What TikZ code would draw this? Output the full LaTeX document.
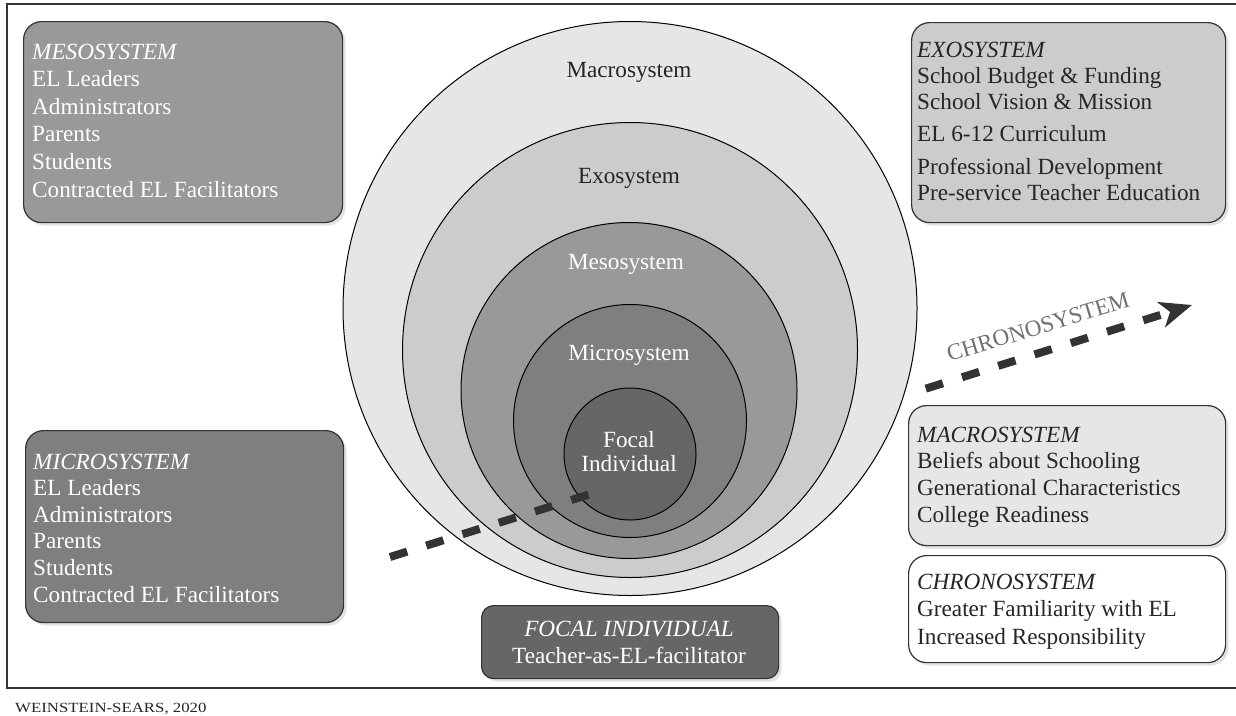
\documentclass[tikz,border=0pt]{standalone}
\usepackage{fontspec}
\setmainfont{Liberation Serif}
\usetikzlibrary{shadows,arrows.meta,calc}
\definecolor{cmacro}{HTML}{E6E6E6}
\definecolor{cexo}{HTML}{CCCCCC}
\definecolor{cmeso}{HTML}{999999}
\definecolor{cmicro}{HTML}{7F7F7F}
\definecolor{cfocal}{HTML}{666666}
\definecolor{ink}{HTML}{262626}
\definecolor{frameink}{HTML}{333333}
\definecolor{chronogray}{HTML}{707070}
\begin{document}
\begin{tikzpicture}[x=1pt,y=-1pt,
  ring/.style={circle, draw=black, line width=1pt, inner sep=0pt},
  sysbox/.style={rectangle, rounded corners=18pt, draw=frameink, line width=1.2pt,
    inner sep=0pt, anchor=north west,
    drop shadow={shadow xshift=3pt, shadow yshift=-3pt, fill=black!22}},
  boxtext/.style={anchor=base west, inner sep=0pt, font=\fontsize{23.2}{#1}\selectfont},
  boxtext/.default=27.5,
  ringlabel/.style={anchor=base, inner sep=0pt, font=\fontsize{23.2}{24}\selectfont},
  chrono/.style={draw=frameink, line width=8pt, dash pattern=on 18pt off 20pt},
]
\useasboundingbox (0,0) rectangle (1236,715);
\fill[white] (0,0) rectangle (1236,715);
\draw[frameink, line width=1.5pt] (7,4) rectangle (1250,688);

% nested circles
\node[ring, fill=cmacro, minimum size=574pt] (macro) at (630,308.5) {};
\node[ring, fill=cexo,   minimum size=455pt] (exo)   at (630,350) {};
\node[ring, fill=cmeso,  minimum size=336pt] (meso)  at (629,390.5) {};
\node[ring, fill=cmicro, minimum size=233pt] (micro) at (630,421) {};
\node[ring, fill=cfocal, minimum size=132pt] (focal) at (630,454) {};

\node[ringlabel, text=ink]   (lmacro) at (629,77)  {Macrosystem};
\node[ringlabel, text=ink]   (lexo)   at (629,183) {Exosystem};
\node[ringlabel, text=white] (lmeso)  at (626,269) {Mesosystem};
\node[ringlabel, text=white] (lmicro) at (629,360) {Microsystem};
\node[ringlabel, text=white] (lfocal1) at (629,447) {Focal};
\node[ringlabel, text=white] (lfocal2) at (629,471) {Individual};

% chronosystem arrow
\coordinate (cs) at (390,557);
\coordinate (ce) at (1192,305);
\draw[chrono] (cs) -- ($(cs)!0.252!(ce)$);
\draw[chrono, -{Stealth[length=32pt, width=26pt, inset=9pt]}] ($(cs)!0.668!(ce)$) -- (ce);
\node[inner sep=0pt, rotate=17, text=chronogray, font=\fontsize{23.2}{24}\selectfont]
  (lchrono) at (1038,327) {CHRONOSYSTEM};

% boxes
\node[sysbox, fill=cmeso, minimum width=319pt, minimum height=201pt] (mesobox) at (23,21) {};
\node[boxtext=27.6, text=white] (mesotext) at (32,59)
  {\begin{tabular}[t]{@{}l@{}}\textit{MESOSYSTEM}\\EL Leaders\\Administrators\\Parents\\Students\\Contracted EL Facilitators\end{tabular}};

\node[sysbox, fill=cmicro, minimum width=318pt, minimum height=192pt] (microbox) at (25,430) {};
\node[boxtext=26.6, text=white] (microtext) at (33,469)
  {\begin{tabular}[t]{@{}l@{}}\textit{MICROSYSTEM}\\EL Leaders\\Administrators\\Parents\\Students\\Contracted EL Facilitators\end{tabular}};

\node[sysbox, fill=cexo, minimum width=314pt, minimum height=200pt] (exobox) at (911,22) {};
\node[boxtext=26.3, text=ink] (exotext) at (917,57)
  {\begin{tabular}[t]{@{}l@{}}\textit{EXOSYSTEM}\\School Budget \& Funding\\School Vision \& Mission\\[6pt]EL 6-12 Curriculum\\[6pt]Professional Development\\Pre-service Teacher Education\end{tabular}};

\node[sysbox, fill=cmacro, minimum width=317pt, minimum height=140pt] (macrobox) at (908,405) {};
\node[boxtext=26.7, text=ink] (macrotext) at (917,442)
  {\begin{tabular}[t]{@{}l@{}}\textit{MACROSYSTEM}\\Beliefs about Schooling\\Generational Characteristics\\College Readiness\end{tabular}};

\node[sysbox, fill=white, minimum width=317pt, minimum height=107pt] (chronobox) at (908,555) {};
\node[boxtext=27.5, text=ink] (chronotext) at (917,589)
  {\begin{tabular}[t]{@{}l@{}}\textit{CHRONOSYSTEM}\\Greater Familiarity with EL\\Increased Responsibility\end{tabular}};

\node[sysbox, rounded corners=12pt, fill=cfocal, minimum width=297pt, minimum height=73pt] (focalbox) at (481,605) {};
\node[inner sep=0pt, anchor=base, text=white, font=\fontsize{23.2}{27}\selectfont] (focaltext) at (629,636)
  {\begin{tabular}[t]{@{}c@{}}\textit{FOCAL INDIVIDUAL}\\Teacher-as-EL-facilitator\end{tabular}};

% caption
\node[anchor=base west, inner sep=0pt, text=ink, font=\fontsize{14}{16}\selectfont] (caption) at (15,712)
  {\scalebox{1.2}[1]{WEINSTEIN-SEARS, 2020}};
\end{tikzpicture}
\end{document}
